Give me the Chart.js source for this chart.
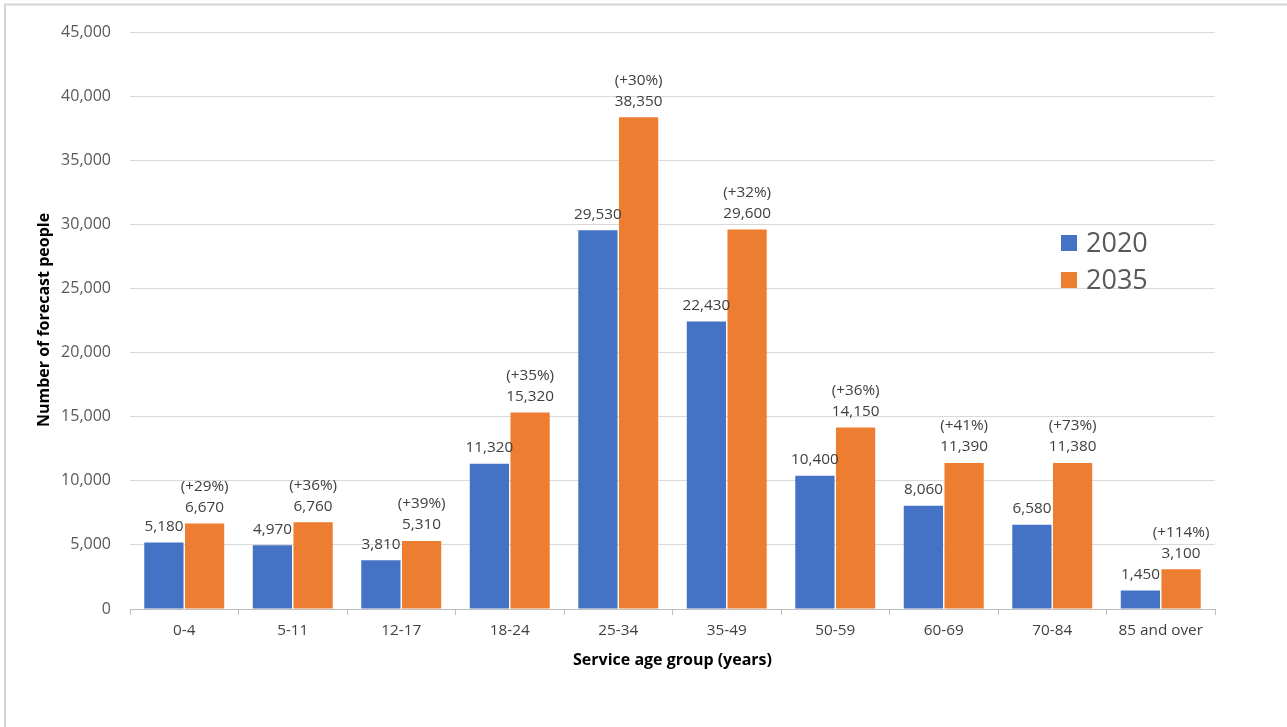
<!DOCTYPE html>
<html>
<head>
<meta charset="utf-8">
<script src="https://cdn.jsdelivr.net/npm/chart.js@4.4.1/dist/chart.umd.min.js"></script>
<style>
  html, body { margin: 0; padding: 0; background: #ffffff; }
  #wrap { position: relative; width: 1287px; height: 727px; }
</style>
</head>
<body>
<div id="wrap"><canvas id="chart" width="1287" height="727"></canvas></div>
<script>
// Service age groups and forecast head counts
const ageGroups = ['0-4', '5-11', '12-17', '18-24', '25-34', '35-49', '50-59', '60-69', '70-84', '85 and over'];
const people2020 = [5180, 4970, 3810, 11320, 29530, 22430, 10400, 8060, 6580, 1450];
const people2035 = [6670, 6760, 5310, 15320, 38350, 29600, 14150, 11390, 11380, 3100];
const growthLabels = ['(+29%)', '(+36%)', '(+39%)', '(+35%)', '(+30%)', '(+32%)', '(+36%)', '(+41%)', '(+73%)', '(+114%)'];
const seriesNames = ['2020', '2035'];
const yTicks = [0, 5000, 10000, 15000, 20000, 25000, 30000, 35000, 40000, 45000];

const BLUE = '#4472c4';
const ORANGE = '#ed7d31';
const FONT = "'Open Sans', 'Liberation Sans', sans-serif";

const fmt = v => v.toLocaleString('en-US');

// Value labels above each bar; the 2035 bars also carry the growth figure
const barLabels = {
  id: 'barLabels',
  afterDatasetsDraw(chart) {
    const ctx = chart.ctx;
    ctx.save();
    ctx.font = '15.3px ' + FONT;
    ctx.fillStyle = '#404040';
    ctx.textAlign = 'center';
    ctx.textBaseline = 'middle';
    chart.data.datasets.forEach((ds, di) => {
      const meta = chart.getDatasetMeta(di);
      meta.data.forEach((bar, i) => {
        const y = bar.y - 16;
        ctx.fillText(fmt(ds.data[i]), bar.x, y);
        if (di === 1) ctx.fillText(growthLabels[i], bar.x, y - 21);
      });
    });
    ctx.restore();
  }
};

// Frame, axis titles and the legend block
const decorations = {
  id: 'decorations',
  beforeDraw(chart) {
    const ctx = chart.ctx;
    ctx.save();
    ctx.fillStyle = '#ffffff';
    ctx.fillRect(0, 0, chart.width, chart.height);
    ctx.strokeStyle = '#d4d4d4';
    ctx.lineWidth = 2;
    ctx.beginPath();
    ctx.moveTo(5, chart.height);
    ctx.lineTo(5, 4.5);
    ctx.lineTo(chart.width, 4.5);
    ctx.stroke();
    ctx.restore();
  },
  afterDraw(chart) {
    const ctx = chart.ctx;
    const area = chart.chartArea;
    ctx.save();
    ctx.fillStyle = '#000000';
    ctx.font = 'bold 16px ' + FONT;
    ctx.textAlign = 'center';
    ctx.textBaseline = 'middle';
    ctx.fillText('Service age group (years)', (area.left + area.right) / 2, 660);
    ctx.translate(44, 320);
    ctx.rotate(-Math.PI / 2);
    ctx.fillText('Number of forecast people', 0, 0);
    ctx.restore();

    ctx.save();
    ctx.font = '27px ' + FONT;
    ctx.textAlign = 'left';
    ctx.textBaseline = 'middle';
    const colors = [BLUE, ORANGE];
    const rows = [243, 280];
    seriesNames.forEach((name, i) => {
      ctx.fillStyle = colors[i];
      ctx.fillRect(1061, rows[i] - 8, 16, 16);
      ctx.fillStyle = '#595959';
      ctx.fillText(name, 1086, rows[i] + 1);
    });
    ctx.restore();
  }
};

new Chart(document.getElementById('chart'), {
  type: 'bar',
  data: {
    labels: ageGroups,
    datasets: [
      { label: seriesNames[0], data: people2020, backgroundColor: BLUE, borderWidth: 0,
        categoryPercentage: 0.75, barPercentage: 0.965 },
      { label: seriesNames[1], data: people2035, backgroundColor: ORANGE, borderWidth: 0,
        categoryPercentage: 0.75, barPercentage: 0.965 }
    ]
  },
  options: {
    responsive: false,
    animation: false,
    layout: { padding: { top: 32, right: 72, left: 0, bottom: 0 } },
    plugins: { legend: { display: false }, tooltip: { enabled: false } },
    scales: {
      x: {
        offset: true,
        grid: { display: true, drawOnChartArea: false, drawTicks: true, tickLength: 6, color: '#bfbfbf', offset: true },
        border: { display: true, color: '#bfbfbf', width: 1 },
        ticks: { color: '#404040', font: { family: FONT, size: 15.3 }, padding: 6, maxRotation: 0, autoSkip: false },
        afterFit(scale) { scale.height = 118; }
      },
      y: {
        min: 0,
        max: 45000,
        afterBuildTicks(scale) { scale.ticks = yTicks.map(v => ({ value: v })); },
        grid: { color: '#d9d9d9', lineWidth: 1, drawTicks: false },
        border: { display: false },
        ticks: { color: '#595959', font: { family: FONT, size: 16 }, padding: 19,
                 callback: v => fmt(v) },
        afterFit(scale) { scale.width = 130; }
      }
    }
  },
  plugins: [decorations, barLabels]
});
</script>
</body>
</html>
